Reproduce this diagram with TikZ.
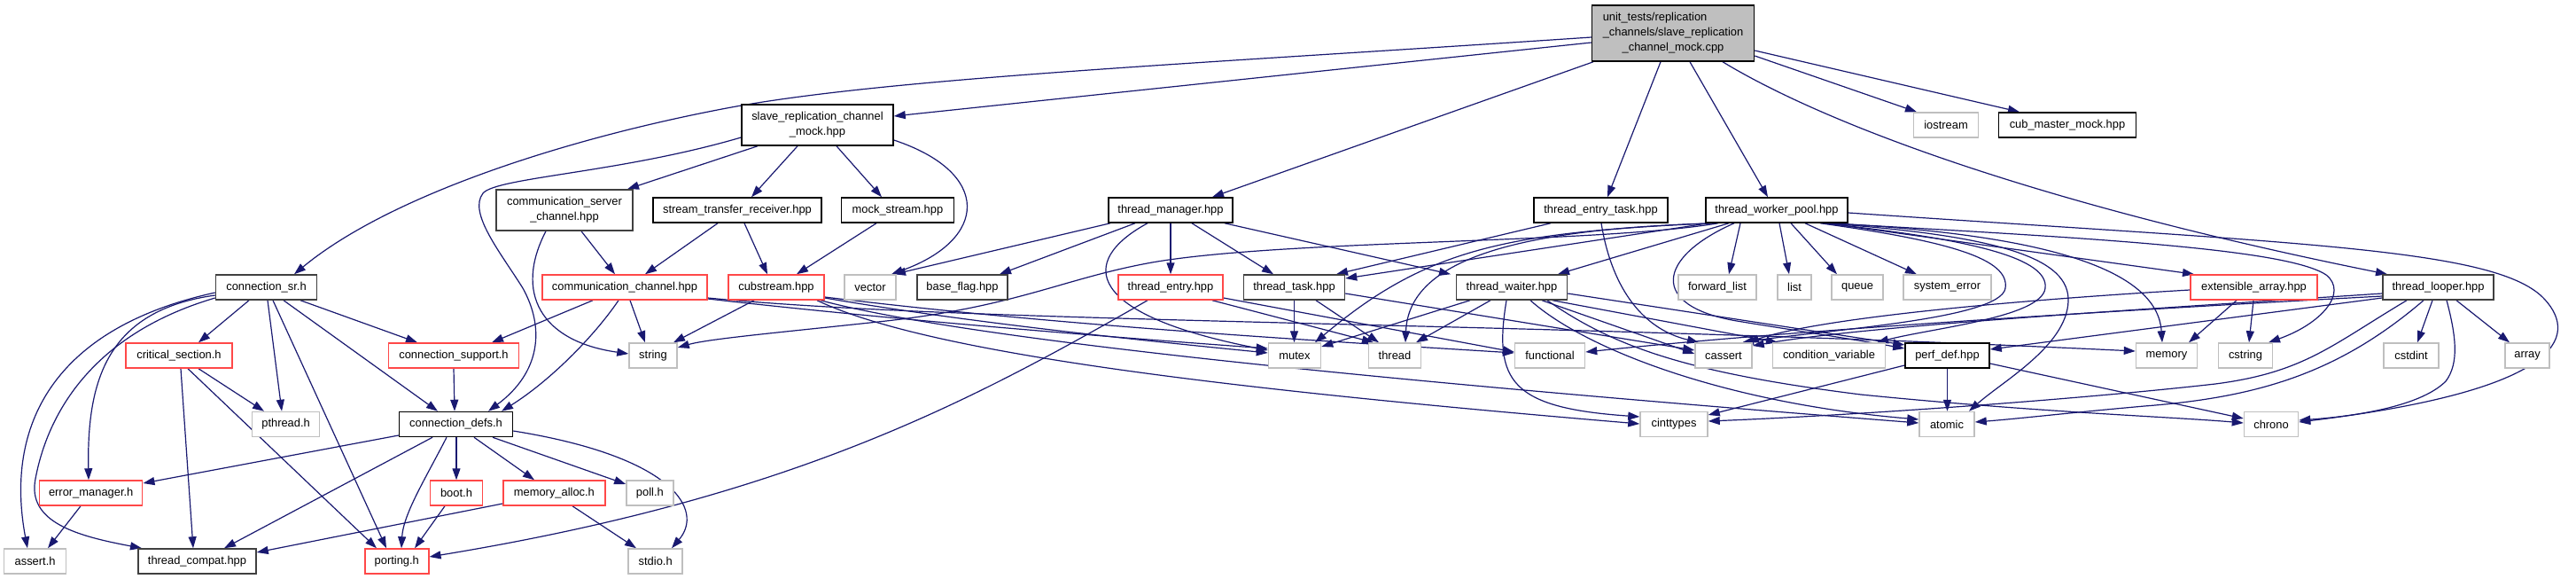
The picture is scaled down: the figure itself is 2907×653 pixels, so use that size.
\documentclass[tikz,border=0pt]{standalone}
\usepackage{fontspec}
\setmainfont{Liberation Sans}
\usetikzlibrary{arrows.meta}
\definecolor{edgec}{HTML}{191970}
\definecolor{redb}{HTML}{FF4848}
\definecolor{grayb}{HTML}{BFBFBF}
\definecolor{darkb}{HTML}{404040}
\definecolor{rootfill}{HTML}{BFBFBF}
\newcommand\nodefont{\fontsize{12.9pt}{17pt}\selectfont}
\pgfdeclarelayer{bgfill}
\pgfdeclarelayer{edges}
\pgfsetlayers{bgfill,edges,main}
\tikzset{
  nb/.style={rectangle, draw=black, line width=1.5pt, fill=white, inner sep=0pt, minimum height=28pt, font=\nodefont, align=center},
  gb/.style={nb, draw=grayb},
  rb/.style={nb, draw=redb},
  db/.style={nb, draw=darkb},
  rootb/.style={nb, fill=rootfill},
  e/.style={draw=edgec, line width=1.2pt, -{Triangle[length=13pt,width=9pt]}}
}
\begin{document}
\begin{tikzpicture}[x=1pt,y=-1pt]
\begin{pgfonlayer}{bgfill}
\fill[white] (0,0) rectangle (2907,653);
\end{pgfonlayer}
\useasboundingbox (0,0) rectangle (2907,653);
% row 0/1
\node[rootb, minimum width=183pt, minimum height=63pt] (root) at (1888,37.5) {\rlap{unit\_tests/replication}\phantom{\_channels/slave\_replication}\\\_channels/slave\_replication\\\_channel\_mock.cpp};
\node[nb, minimum width=171pt, minimum height=46pt] (slave) at (922.5,141) {slave\_replication\_channel\\\_mock.hpp};
\node[gb, minimum width=73pt] (iostream) at (2196,141) {iostream};
\node[nb, minimum width=155pt] (cubm) at (2333,141) {cub\_master\_mock.hpp};
% row 2
\node[db, minimum width=154pt, minimum height=46pt] (csc) at (637,237) {communication\_server\\\_channel.hpp};
\node[nb, minimum width=190pt] (str) at (832,237) {stream\_transfer\_receiver.hpp};
\node[nb, minimum width=127pt] (mock) at (1013,237) {mock\_stream.hpp};
\node[nb, minimum width=140pt] (tm) at (1321,237) {thread\_manager.hpp};
\node[nb, minimum width=151pt] (tet) at (1806.5,237) {thread\_entry\_task.hpp};
\node[nb, minimum width=160pt] (twp) at (2005,237) {thread\_worker\_pool.hpp};
% row 3
\node[db, minimum width=114pt] (csr) at (300.5,324) {connection\_sr.h};
\node[rb, minimum width=186pt] (cc) at (705,324) {communication\_channel.hpp};
\node[rb, minimum width=108pt] (cub) at (876,324) {cubstream.hpp};
\node[gb, minimum width=58pt] (vector) at (982,324) {vector};
\node[db, minimum width=102pt] (bflag) at (1086,324) {base\_flag.hpp};
\node[rb, minimum width=118pt] (te) at (1321,324) {thread\_entry.hpp};
\node[db, minimum width=114pt] (tt) at (1460.5,324) {thread\_task.hpp};
\node[db, minimum width=125pt] (tw) at (1706,324) {thread\_waiter.hpp};
\node[gb, minimum width=88pt] (fl) at (1938,324) {forward\_list};
\node[gb, minimum width=38pt] (list) at (2025,324) {list};
\node[gb, minimum width=58pt] (queue) at (2096,324) {queue};
\node[gb, minimum width=99pt] (syserr) at (2197.5,324) {system\_error};
\node[rb, minimum width=143pt] (ext) at (2543.5,324) {extensible\_array.hpp};
\node[db, minimum width=125pt] (tl) at (2751.5,324) {thread\_looper.hpp};
% row 4
\node[rb, minimum width=120pt] (cs) at (202,401) {critical\_section.h};
\node[rb, minimum width=147pt] (csu) at (512,401) {connection\_support.h};
\node[gb, minimum width=54pt] (string) at (737,401) {string};
\node[gb, minimum width=59pt] (mutex) at (1461,401) {mutex};
\node[gb, minimum width=59pt] (thread) at (1574,401) {thread};
\node[gb, minimum width=79pt] (func) at (1749,401) {functional};
\node[gb, minimum width=64pt] (cassert) at (1945,401) {cassert};
\node[gb, minimum width=127pt] (cv) at (2064,401) {condition\_variable};
\node[nb, minimum width=95pt] (perf) at (2197.5,401) {perf\_def.hpp};
\node[gb, minimum width=69pt] (memory) at (2445,401) {memory};
\node[gb, minimum width=61pt] (cstring) at (2534,401) {cstring};
\node[gb, minimum width=62pt] (cstdint) at (2721,401) {cstdint};
\node[gb, minimum width=50pt] (array) at (2852,401) {array};
% row 5
\node[gb, minimum width=76pt] (pthread) at (322.6,478.5) {pthread.h};
\node[nb, minimum width=128pt] (cd) at (514.5,478.5) {connection\_defs.h};
\node[gb, minimum width=76pt] (cinttypes) at (1889,478.5) {cinttypes};
\node[gb, minimum width=62pt] (atomic) at (2197,478.5) {atomic};
\node[gb, minimum width=61pt] (chrono) at (2563,478.5) {chrono};
% row 6
\node[rb, minimum width=116pt] (em) at (102.7,556) {error\_manager.h};
\node[rb, minimum width=59pt] (boot) at (515,556) {boot.h};
\node[rb, minimum width=115pt] (ma) at (625.4,556) {memory\_alloc.h};
\node[gb, minimum width=53pt] (poll) at (733.4,556) {poll.h};
% row 7
\node[gb, minimum width=70pt] (assert) at (39.6,633) {assert.h};
\node[db, minimum width=133pt] (tc) at (222.5,633) {thread\_compat.hpp};
\node[rb, minimum width=72pt] (porting) at (447.8,633) {porting.h};
\node[gb, minimum width=61pt] (stdio) at (739.7,633) {stdio.h};

\begin{pgfonlayer}{edges}
% root
\draw[e] (root.west |- 0,42) .. controls (1350,72) and (1000,88) .. (820,122) .. controls (640,156) and (440,220) .. (csr.north -| 332,0);
\draw[e] (root.west |- 0,48) -- (slave.east |- 0,131);
\draw[e] (root.south -| 1798,0) -- (tm.north -| 1368,0);
\draw[e] (root.south -| 1874,0) -- (tet.north -| 1814,0);
\draw[e] (root.south -| 1907,0) -- (twp.north -| 1995,0);
\draw[e] (root.south -| 1944,0) .. controls (2060,140) and (2300,230) .. (tl.north -| 2694,0);
\draw[e] (root.east |- 0,63) -- (iostream.north -| 2163,0);
\draw[e] (root.east |- 0,57) -- (cubm.north -| 2279,0);
% slave
\draw[e] (slave.west |- 0,155) .. controls (700,195) and (560,200) .. (545,218) .. controls (528,240) and (565,285) .. (590,325) .. controls (615,370) and (610,420) .. (cd.north -| 551,0);
\draw[e] (slave.south -| 855,0) -- (csc.north -| 708,0);
\draw[e] (slave.south -| 900,0) -- (str.north -| 848,0);
\draw[e] (slave.south -| 944,0) -- (mock.north -| 995,0);
\draw[e] (slave.east |- 0,158) .. controls (1120,195) and (1115,270) .. (vector.north -| 1006,0);
% csc, str, mock
\draw[e] (csc.south -| 656,0) -- (cc.north -| 694,0);
\draw[e] (csc.south -| 616,0) .. controls (580,330) and (610,385) .. (string.west |- 0,399);
\draw[e] (str.south -| 810,0) -- (cc.north -| 728,0);
\draw[e] (str.south -| 840,0) -- (cub.north -| 866,0);
\draw[e] (mock.south -| 989,0) -- (cub.north -| 899,0);
% tm
\draw[e] (tm.south -| 1253,0) -- (vector.north -| 1009,0);
\draw[e] (tm.south -| 1281,0) -- (bflag.north -| 1128,0);
\draw[e] (tm.south -| 1295,0) .. controls (1215,295) and (1225,355) .. (mutex.west |- 0,395);
\draw[e] (tm.south) -- (te.north);
\draw[e] (tm.south -| 1345,0) -- (tt.north -| 1437,0);
\draw[e] (tm.south -| 1382,0) -- (tw.north -| 1637,0);
% tet
\draw[e] (tet.south -| 1750,0) -- (tt.north -| 1508,0);
\draw[e] (tet.south -| 1807,0) .. controls (1818,320) and (1850,370) .. (cassert.north -| 1917,0);
% twp
\draw[e] (twp.south -| 1928,0) -- (tt.east |- 0,314);
\draw[e] (twp.south -| 1951,0) -- (tw.north -| 1758,0);
\draw[e] (twp.south -| 1932,0) .. controls (1700,262) and (1610,280) .. (mutex.north -| 1484,0);
\draw[e] (twp.south -| 1935,0) .. controls (1720,258) and (1590,290) .. (thread.north -| 1586,0);
\draw[e] (twp.south -| 1939,0) .. controls (1800,275) and (1450,270) .. (1300,296) .. controls (1200,314) and (1150,345) .. (1000,362) .. controls (880,375) and (800,382) .. (string.east |- 0,392);
\draw[e] (twp.south -| 1957,0) .. controls (1870,290) and (1860,345) .. (1960,362) .. controls (2040,375) and (2100,384) .. (perf.west |- 0,393);
\draw[e] (twp.south -| 1964,0) -- (fl.north -| 1951,0);
\draw[e] (twp.south -| 2008,0) -- (list.north -| 2019,0);
\draw[e] (twp.south -| 2021,0) -- (queue.north -| 2073,0);
\draw[e] (twp.south -| 2037,0) -- (syserr.north -| 2163,0);
\draw[e] (twp.south -| 2061,0) -- (ext.north -| 2476,0);
\draw[e] (twp.south -| 2062,0) .. controls (2330,265) and (2435,310) .. (memory.north -| 2440,0);
\draw[e] (twp.south -| 2064,0) .. controls (2350,268) and (2580,280) .. (2625,310) .. controls (2650,330) and (2620,365) .. (cstring.north -| 2560,0);
\draw[e] (twp.south -| 2054,0) .. controls (2200,272) and (2268,292) .. (2263,325) .. controls (2258,360) and (2060,372) .. (cassert.north -| 1966,0);
\draw[e] (twp.south -| 2057,0) .. controls (2230,270) and (2312,292) .. (2308,325) .. controls (2304,358) and (2180,370) .. (cv.north -| 2118,0);
\draw[e] (twp.south -| 2059,0) .. controls (2260,266) and (2336,292) .. (2334,340) .. controls (2332,390) and (2260,430) .. (atomic.north -| 2222,0);
\draw[e] (twp.east |- 0,240) .. controls (2600,275) and (2820,280) .. (2872,338) .. controls (2910,380) and (2890,440) .. (chrono.east |- 0,476);
% te
\draw[e] (te.south -| 1295,0) .. controls (1100,450) and (900,560) .. (porting.east |- 0,628);
\draw[e] (te.east |- 0,336) -- (func.west |- 0,397);
\draw[e] (te.south -| 1368,0) -- (thread.north -| 1550,0);
% tt
\draw[e] (tt.south) -- (tt.south |- mutex.north);
\draw[e] (tt.south -| 1485,0) -- (thread.north -| 1556,0);
\draw[e] (tt.east |- 0,331) -- (cassert.west |- 0,395);
% tw
\draw[e] (tw.south -| 1659,0) -- (mutex.east |- 0,391);
\draw[e] (tw.south -| 1682,0) -- (thread.north -| 1598,0);
\draw[e] (tw.south -| 1700,0) .. controls (1685,430) and (1705,460) .. (cinttypes.west |- 0,470);
\draw[e] (tw.south -| 1727,0) .. controls (1790,395) and (1950,455) .. (atomic.west |- 0,473);
\draw[e] (tw.south -| 1746,0) .. controls (1820,390) and (1900,420) .. (2100,445) .. controls (2300,465) and (2450,470) .. (chrono.west |- 0,477);
\draw[e] (tw.south -| 1740,0) -- (cassert.west |- 0,399);
\draw[e] (tw.south -| 1752,0) -- (cv.north -| 2006,0);
\draw[e] (tw.east |- 0,331) -- (perf.west |- 0,389);
% cub
\draw[e] (cub.south -| 851,0) -- (string.north -| 760,0);
\draw[e] (cub.east |- 0,336) .. controls (1100,365) and (1300,385) .. (mutex.west |- 0,398);
\draw[e] (cub.east |- 0,335) .. controls (1200,368) and (1500,385) .. (func.west |- 0,398);
\draw[e] (cub.south -| 926,0) .. controls (1080,380) and (1500,425) .. (atomic.west |- 0,477);
\draw[e] (cub.south -| 922,0) .. controls (1050,400) and (1400,440) .. (cinttypes.west |- 0,478);
% cc
\draw[e] (cc.south -| 669,0) -- (csu.north -| 555,0);
\draw[e] (cc.south -| 698,0) .. controls (670,380) and (620,430) .. (cd.north -| 566,0);
\draw[e] (cc.south -| 711,0) -- (string.north -| 728,0);
\draw[e] (cc.east |- 0,337) .. controls (1000,360) and (1250,380) .. (mutex.west |- 0,393);
\draw[e] (cc.east |- 0,336) .. controls (1100,365) and (1700,362) .. (memory.west |- 0,396);
% csr
\draw[e] (csr.south -| 281,0) -- (cs.north -| 224,0);
\draw[e] (csr.south -| 302,0) -- (pthread.north -| 318,0);
\draw[e] (csr.south -| 308,0) -- (porting.north -| 436,0);
\draw[e] (csr.south -| 320,0) -- (cd.north -| 494,0);
\draw[e] (csr.south -| 339,0) -- (csu.north -| 471,0);
\draw[e] (csr.west |- 0,333) .. controls (120,350) and (98,430) .. (em.north -| 100,0);
\draw[e] (csr.west |- 0,330) .. controls (60,370) and (5,480) .. (assert.north -| 31,0);
\draw[e] (csr.west |- 0,336) .. controls (110,375) and (55,460) .. (40,540) .. controls (30,590) and (90,605) .. (tc.north -| 160,0);
% cs, csu
\draw[e] (cs.south -| 224,0) -- (pthread.north -| 298,0);
\draw[e] (cs.south -| 204,0) -- (tc.north -| 218,0);
\draw[e] (cs.south -| 212,0) -- (porting.north -| 425,0);
\draw[e] (csu.south) -- (cd.north -| 513,0);
% cd
\draw[e] (cd.west |- 0,491) -- (em.east |- 0,545);
\draw[e] (cd.south -| 488,0) -- (tc.north -| 253,0);
\draw[e] (cd.south -| 504,0) .. controls (480,540) and (455,580) .. (porting.north -| 453,0);
\draw[e] (cd.south -| 515,0) -- (boot.north);
\draw[e] (cd.south -| 535,0) -- (ma.north -| 603,0);
\draw[e] (cd.south -| 556,0) -- (poll.west |- 0,546);
\draw[e] (cd.east |- 0,486) .. controls (760,515) and (795,575) .. (stdio.north -| 758,0);
% em, boot, ma
\draw[e] (em.south -| 91,0) -- (assert.north -| 54,0);
\draw[e] (boot.south -| 502,0) -- (porting.north -| 468,0);
\draw[e] (ma.west |- 0,568) -- (tc.east |- 0,623);
\draw[e] (ma.south -| 646,0) -- (stdio.north -| 718,0);
% ext
\draw[e] (ext.west |- 0,327) .. controls (2250,340) and (2050,360) .. (cassert.north -| 1972,0);
\draw[e] (ext.south -| 2524,0) -- (memory.north -| 2470,0);
\draw[e] (ext.south -| 2543,0) -- (cstring.north -| 2538,0);
% tl
\draw[e] (tl.west |- 0,331) .. controls (2400,350) and (2100,368) .. (cassert.east |- 0,390);
\draw[e] (tl.west |- 0,334) .. controls (2300,355) and (2000,375) .. (func.east |- 0,397);
\draw[e] (tl.west |- 0,336) -- (perf.east |- 0,394);
\draw[e] (tl.south -| 2716,0) .. controls (2630,390) and (2600,420) .. (2500,433) .. controls (2350,450) and (2100,468) .. (cinttypes.east |- 0,475);
\draw[e] (tl.south -| 2735,0) .. controls (2640,420) and (2550,448) .. (2420,458) .. controls (2330,466) and (2280,472) .. (atomic.east |- 0,476);
\draw[e] (tl.south -| 2745,0) -- (cstdint.north -| 2728,0);
\draw[e] (tl.south -| 2761,0) .. controls (2772,380) and (2775,410) .. (2760,430) .. controls (2730,460) and (2650,470) .. (chrono.east |- 0,474);
\draw[e] (tl.south -| 2772,0) -- (array.north -| 2832,0);
% perf
\draw[e] (perf.west |- 0,412) -- (cinttypes.east |- 0,468);
\draw[e] (perf.south) -- (perf.south |- atomic.north);
\draw[e] (perf.east |- 0,410) -- (chrono.west |- 0,472);
\end{pgfonlayer}
\end{tikzpicture}
\end{document}
